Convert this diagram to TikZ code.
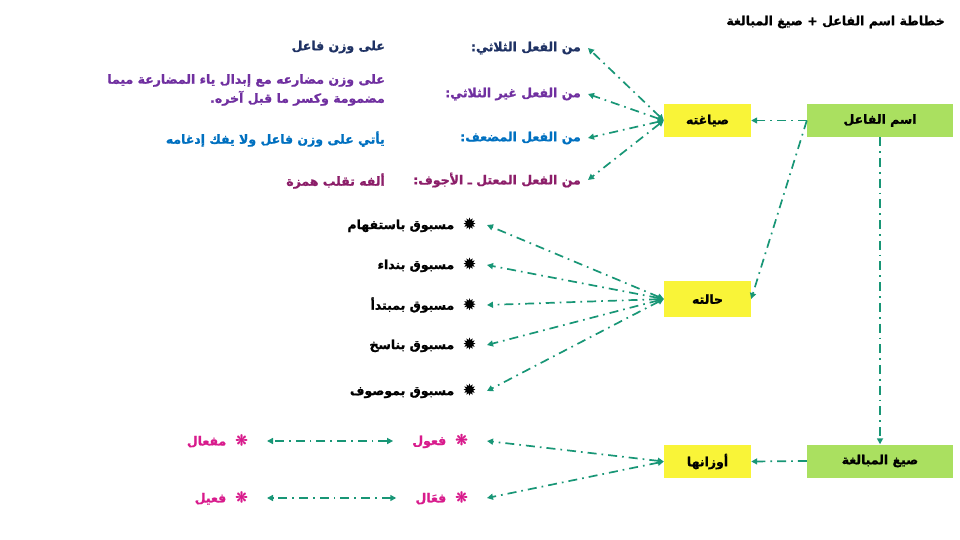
\documentclass[tikz,border=0pt]{standalone}
\usepackage{fontspec}
\usetikzlibrary{arrows.meta}
\TeXXeTstate=1
\newfontfamily\arabicfont[Script=Arabic,BoldFont={DejaVu Sans Bold},BoldFeatures={FakeBold=1.2}]{DejaVu Sans}
\definecolor{teal}{RGB}{24,150,118}
\definecolor{gbox}{RGB}{170,224,96}
\definecolor{ybox}{RGB}{249,244,56}
\definecolor{navy}{RGB}{31,50,100}
\definecolor{purp}{RGB}{112,48,160}
\definecolor{blu}{RGB}{0,112,192}
\definecolor{plum}{RGB}{140,30,105}
\definecolor{pink}{RGB}{216,27,140}
\newcommand{\bstar}{{\fontsize{15}{15}\selectfont ✹}}
\newcommand{\pstar}{{\fontsize{15}{15}\selectfont ❋}}
\tikzset{
  ar/.style={font=\arabicfont\bfseries\fontsize{12.5}{19}\selectfont},
  greenbox/.style={ar, fill=gbox, minimum width=146pt, minimum height=33pt, inner sep=0pt},
  yellowbox/.style={ar, fill=ybox, minimum width=87pt, minimum height=33pt, inner sep=0pt},
  con/.style={draw=teal, line width=1.7pt, dash pattern=on 9pt off 5pt on 1.7pt off 5pt, -{Triangle[length=6pt,width=6pt]}},
  conb/.style={con, {Triangle[length=6pt,width=6pt]}-{Triangle[length=6pt,width=6pt]}},
  lblA/.style={ar, anchor=east, inner xsep=7pt, inner ysep=2pt},
  lblB/.style={ar, anchor=east, inner xsep=11pt, inner ysep=2pt},
  lblC/.style={ar, anchor=east, inner xsep=19pt, inner ysep=2pt, text=pink},
  note/.style={ar, anchor=east, inner sep=0pt, align=right},
}
\begin{document}
\begin{tikzpicture}[x=1pt,y=-1pt]
\useasboundingbox (0,0) rectangle (960,540);
% title
\node[ar, anchor=east, inner sep=0pt] (title) at (945,22) {\beginR خطاطة اسم الفاعل + صيغ المبالغة\endR};
% boxes
\node[greenbox] (isf) at (880,120.5) {\beginR اسم الفاعل\endR};
\node[greenbox] (sigh) at (880,461) {\beginR صيغ المبالغة\endR};
\node[yellowbox] (siya) at (707.5,120.5) {\beginR صياغته\endR};
\node[yellowbox, minimum height=36pt] (hal) at (707.5,299) {\beginR حالته\endR};
\node[yellowbox] (awz) at (707.5,461.5) {\beginR أوزانها\endR};
% group A
\node[lblA, text=navy] (a1) at (588,48) {\beginR من الفعل الثلاثي:\endR};
\node[lblA, text=purp] (a2) at (588,94) {\beginR من الفعل غير الثلاثي:\endR};
\node[lblA, text=blu] (a3) at (588,138) {\beginR من الفعل المضعف:\endR};
\node[lblA, text=plum] (a4) at (588,180) {\beginR من الفعل المعتل ـ الأجوف:\endR};
% notes
\node[note, text=navy] (n1) at (385,47) {\beginR على وزن فاعل\endR};
\node[note, text=purp] (n2) at (385,90) {\beginR على وزن مضارعه مع إبدال ياء المضارعة ميما\endR\\\beginR مضمومة وكسر ما قبل آخره.\endR};
\node[note, text=blu] (n3) at (385,139) {\beginR يأتي على وزن فاعل ولا يفك إدغامه\endR};
\node[note, text=plum] (n4) at (385,181) {\beginR ألفه تقلب همزة\endR};
% group B
\node[lblB] (b1) at (487,225) {\beginR \bstar\hspace{9pt}مسبوق باستفهام\endR};
\node[lblB] (b2) at (487,265) {\beginR \bstar\hspace{9pt}مسبوق بنداء\endR};
\node[lblB] (b3) at (487,305) {\beginR \bstar\hspace{9pt}مسبوق بمبتدأ\endR};
\node[lblB] (b4) at (487,345) {\beginR \bstar\hspace{9pt}مسبوق بناسخ\endR};
\node[lblB] (b5) at (487,391) {\beginR \bstar\hspace{9pt}مسبوق بموصوف\endR};
% group C
\node[lblC] (c1) at (487,441) {\beginR \pstar\hspace{9pt}فعول\endR};
\node[lblC] (c2) at (487,498) {\beginR \pstar\hspace{9pt}فعَال\endR};
\node[lblC] (d1) at (267,441) {\beginR \pstar\hspace{9pt}مفعال\endR};
\node[lblC] (d2) at (267,498) {\beginR \pstar\hspace{9pt}فعيل\endR};
% connectors
\draw[con] (isf.west) -- (siya.east);
\draw[con] (isf.west) -- (hal.east);
\draw[con] (isf.south) -- (sigh.north);
\draw[con] (sigh.west) -- (awz.east);
\foreach \t in {a1,a2,a3,a4} \draw[conb] (siya.west) -- (\t.east);
\foreach \t in {b1,b2,b3,b4,b5} \draw[conb] (hal.west) -- (\t.east);
\foreach \t in {c1,c2} \draw[conb] (awz.west) -- (\t.east);
\draw[conb] (c1.west) -- (d1.east);
\draw[conb] (c2.west) -- (d2.east);
\end{tikzpicture}
\end{document}
